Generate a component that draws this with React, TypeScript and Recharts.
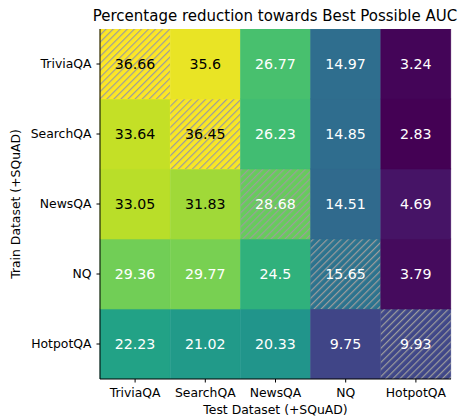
import React from "react";
import { BarChart, Bar, XAxis, YAxis } from "recharts";

// column order (test) and row order (train), top to bottom
const testSets = ["TriviaQA", "SearchQA", "NewsQA", "NQ", "HotpotQA"];
const trainSets = ["TriviaQA", "SearchQA", "NewsQA", "NQ", "HotpotQA"];

const triviaRow = [36.66, 35.6, 26.77, 14.97, 3.24];
const searchRow = [33.64, 36.45, 26.23, 14.85, 2.83];
const newsRow = [33.05, 31.83, 28.68, 14.51, 4.69];
const nqRow = [29.36, 29.77, 24.5, 15.65, 3.79];
const hotpotRow = [22.23, 21.02, 20.33, 9.75, 9.93];

const rows = [triviaRow, searchRow, newsRow, nqRow, hotpotRow];

const title = "Percentage reduction towards Best Possible AUC";
const xTitle = "Test Dataset (+SQuAD)";
const yTitle = "Train Dataset (+SQuAD)";

const FONT = "'DejaVu Sans', sans-serif";

const VIRIDIS = [
  "#440154", "#482475", "#414487", "#355f8d", "#2a788e",
  "#21918c", "#22a884", "#44bf70", "#7ad151", "#bddf26", "#fde725",
];

const hexToRgb = (h: string) => [
  parseInt(h.slice(1, 3), 16),
  parseInt(h.slice(3, 5), 16),
  parseInt(h.slice(5, 7), 16),
];

const allValues = rows.flat();
const vmin = Math.min(...allValues);
const vmax = Math.max(...allValues);

const viridis = (v: number) => {
  const t = Math.max(0, Math.min(1, (v - vmin) / (vmax - vmin)));
  const p = t * (VIRIDIS.length - 1);
  const i = Math.min(Math.floor(p), VIRIDIS.length - 2);
  const f = p - i;
  const a = hexToRgb(VIRIDIS[i]);
  const b = hexToRgb(VIRIDIS[i + 1]);
  const c = a.map((x, k) => Math.round(x + (b[k] - x) * f));
  return `rgb(${c[0]},${c[1]},${c[2]})`;
};

// one stacked bar per test column, one unit segment per train row (bottom row first)
const data = testSets.map((name) => {
  const d: { [k: string]: string | number } = { test: name };
  trainSets.forEach((_, r) => {
    d[`r${r}`] = 1;
  });
  return d;
});

const stackOrder = [4, 3, 2, 1, 0];

const makeShape = (row: number) => (props: any) => {
  const { x, y, width, height, index } = props;
  const v = rows[row][index];
  const hatched = row === index;
  const c = viridis(v);
  return (
    <g>
      {row === 0 && index === 0 && (
        <defs>
          <pattern id="hatch" patternUnits="userSpaceOnUse" width={5} height={5} patternTransform="rotate(45)">
            <line x1={0.6} y1={-1} x2={0.6} y2={6} stroke="#9c9c9c" strokeWidth={1.2} />
          </pattern>
        </defs>
      )}
      <rect x={x} y={y} width={width} height={height} fill={c} stroke={c} strokeWidth={0.6} />
      {hatched && <rect x={x} y={y} width={width} height={height} fill="url(#hatch)" />}
      <text
        x={x + width / 2}
        y={y + height / 2}
        textAnchor="middle"
        dominantBaseline="central"
        fontFamily={FONT}
        fontSize={14.2}
        fill={v > 30 ? "#000" : "#fff"}
      >
        {v}
      </text>
    </g>
  );
};

export default function App() {
  return (
    <div style={{ position: "absolute", left: 0, top: 0, background: "#fff" }}>
      <BarChart
        width={460}
        height={419}
        data={data}
        margin={{ top: 29, right: 9, left: 0, bottom: 0 }}
        barCategoryGap={0}
        barGap={0}
      >
        <XAxis
          dataKey="test"
          height={40}
          tickSize={3.5}
          tickMargin={6}
          tickLine={{ stroke: "#000" }}
          axisLine={{ stroke: "#000" }}
          tick={{ fill: "#000", fontSize: 12.4, fontFamily: FONT }}
          interval={0}
          label={(p: any) => {
            const vb = p.viewBox;
            return (
              <text x={vb.x + vb.width / 2} y={414} textAnchor="middle" fontFamily={FONT} fontSize={12.4} fill="#000">
                {xTitle}
              </text>
            );
          }}
        />
        <XAxis
          xAxisId="top"
          dataKey="test"
          orientation="top"
          height={0}
          tick={false}
          tickLine={false}
          axisLine={{ stroke: "#000" }}
        />
        <YAxis
          type="number"
          domain={[0, 5]}
          ticks={[0.5, 1.5, 2.5, 3.5, 4.5]}
          tickFormatter={(v: number) => trainSets[4 - Math.floor(v)]}
          width={100}
          tickSize={3.5}
          tickMargin={5}
          tickLine={{ stroke: "#000" }}
          axisLine={{ stroke: "#000" }}
          tick={{ fill: "#000", fontSize: 12.4, fontFamily: FONT }}
          allowDataOverflow
          label={(p: any) => {
            const vb = p.viewBox;
            const cy = vb.y + vb.height / 2;
            return (
              <g>
                <text
                  x={15}
                  y={cy}
                  transform={`rotate(-90 15 ${cy})`}
                  textAnchor="middle"
                  dominantBaseline="central"
                  fontFamily={FONT}
                  fontSize={12.4}
                  fill="#000"
                >
                  {yTitle}
                </text>
                <text x={275} y={21} textAnchor="middle" fontFamily={FONT} fontSize={15} fill="#000">
                  {title}
                </text>
              </g>
            );
          }}
        />
        <YAxis yAxisId="right" orientation="right" width={0} tick={false} tickLine={false} axisLine={{ stroke: "#000" }} />
        {stackOrder.map((r) => (
          <Bar
            key={r}
            dataKey={`r${r}`}
            stackId="a"
            isAnimationActive={false}
            shape={makeShape(r)}
          />
        ))}
      </BarChart>
    </div>
  );
}
